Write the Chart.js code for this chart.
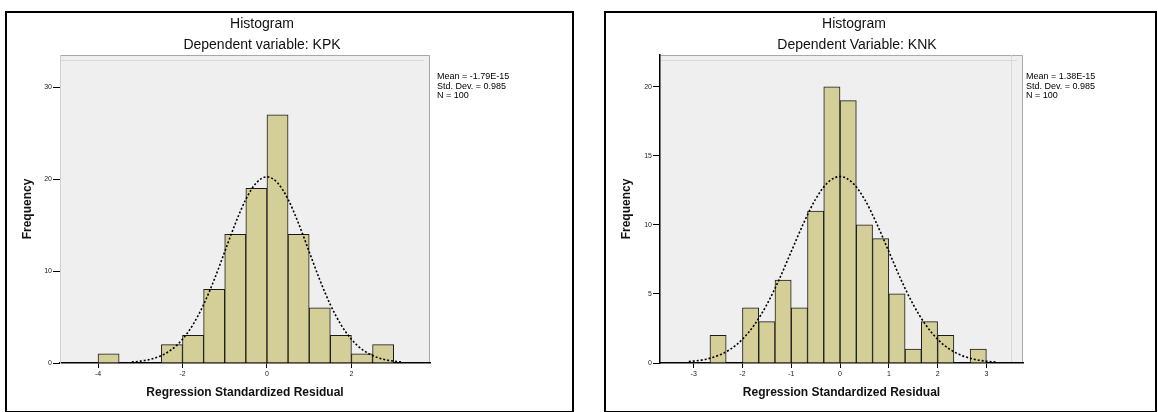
<!DOCTYPE html>
<html><head><meta charset="utf-8">
<script src="https://cdn.jsdelivr.net/npm/chart.js@4.4.0/dist/chart.umd.min.js"></script>
<style>
html,body{margin:0;padding:0;background:#fff;width:1158px;height:412px;overflow:hidden;font-family:"Liberation Sans",Arial,sans-serif;}
canvas{position:absolute;top:0;}
.box{position:absolute;border:2px solid #000;box-sizing:border-box;}
.t{position:absolute;transform:translateX(-50%);white-space:nowrap;color:#111;font-size:14px;line-height:16px;}
.stats{position:absolute;font-size:9px;line-height:9.5px;color:#000;white-space:nowrap;}
</style></head><body>
<canvas id="c1" width="580" height="412" style="left:0px"></canvas>
<canvas id="c2" width="578" height="412" style="left:580px"></canvas>
<div class="box" style="left:5px;top:11px;width:569px;height:402px"></div>
<div class="box" style="left:604px;top:11px;width:553px;height:402px"></div>
<div class="t" style="left:262px;top:15px">Histogram</div>
<div class="t" style="left:262px;top:36px">Dependent variable: KPK</div>
<div class="t" style="left:854px;top:15px">Histogram</div>
<div class="t" style="left:857px;top:36px">Dependent Variable: KNK</div>
<div class="stats" style="left:437px;top:72px">Mean = -1.79E-15<br>Std. Dev. = 0.985<br>N = 100</div>
<div class="stats" style="left:1026px;top:72px">Mean = 1.38E-15<br>Std. Dev. = 0.985<br>N = 100</div>
<script>
// ---- KPK histogram (left) ----
const kpkBinCenters = [-3.75,-3.25,-2.75,-2.25,-1.75,-1.25,-0.75,-0.25,0.25,0.75,1.25,1.75,2.25,2.75];
const kpkCounts     = [1,0,0,2,3,8,14,19,27,14,6,3,1,2];
const kpkCurveX = [-3.2,-3,-2.75,-2.5,-2.25,-2,-1.75,-1.5,-1.25,-1,-0.75,-0.5,-0.25,0,0.25,0.5,0.75,1,1.25,1.5,1.75,2,2.25,2.5,2.75,3,3.2];
const kpkCurveY = [0.10,0.20,0.41,0.81,1.49,2.58,4.18,6.35,9.05,12.1,15.15,17.8,19.6,20.25,19.6,17.8,15.15,12.1,9.05,6.35,4.18,2.58,1.49,0.81,0.41,0.20,0.10];

// ---- KNK histogram (right) ----
const knkBinCenters = [-2.5,-2.167,-1.833,-1.5,-1.167,-0.833,-0.5,-0.167,0.167,0.5,0.833,1.167,1.5,1.833,2.167,2.5,2.833];
const knkCounts     = [2,0,4,3,6,4,11,20,19,10,9,5,1,3,2,0,1];
const knkCurveX = [-3.1,-2.75,-2.5,-2.25,-2,-1.75,-1.5,-1.25,-1,-0.75,-0.5,-0.25,0,0.25,0.5,0.75,1,1.25,1.5,1.75,2,2.25,2.5,2.75,3,3.2];
const knkCurveY = [0.10,0.27,0.54,0.99,1.72,2.79,4.23,6.03,8.07,10.1,11.87,13.07,13.5,13.07,11.87,10.1,8.07,6.03,4.23,2.79,1.72,0.99,0.54,0.27,0.13,0.07];

const BAR = '#D4CF98';
const plotBg = {
  id:'plotBg',
  beforeDraw(chart, args, o){
    const {ctx, chartArea:a} = chart;
    const inner = chart.options.plugins.plotBg.inner;
    ctx.save();
    ctx.fillStyle = '#EFEFEF';
    ctx.fillRect(a.left, a.top, a.right-a.left, a.bottom-a.top);
    ctx.strokeStyle = '#A8A8A8'; ctx.lineWidth = 1;
    ctx.beginPath();
    ctx.moveTo(a.left, a.top+0.5); ctx.lineTo(a.right-0.5, a.top+0.5); ctx.lineTo(a.right-0.5, a.bottom);
    ctx.stroke();
    ctx.strokeStyle = '#D8D8D8';
    ctx.beginPath(); ctx.moveTo(a.left, a.top+5.5); ctx.lineTo(a.right-6, a.top+5.5);
    if (inner) { ctx.moveTo(a.right-11.5, a.top); ctx.lineTo(a.right-11.5, a.bottom); }
    ctx.stroke();
    ctx.restore();
  }
};

function makeChart(id, c){
  new Chart(document.getElementById(id), {
    type:'bar',
    data:{ datasets:[
      {type:'bar', data:c.bins.map((x,i)=>({x:x, y:c.counts[i]})), backgroundColor:BAR, borderColor:'#1a1a1a', borderWidth:1, barPercentage:1, categoryPercentage:1, order:2},
      {type:'line', data:c.cx.map((x,i)=>({x:x, y:c.cy[i]})), borderColor:'#000', borderWidth:1.6, borderDash:[2,2], pointRadius:0, fill:false, cubicInterpolationMode:'monotone', order:1}
    ]},
    options:{
      responsive:false, animation:false, devicePixelRatio:1,
      layout:{padding:{top:55,left:0,right:c.padRight,bottom:0}},
      plugins:{legend:{display:false}, tooltip:{enabled:false}, plotBg:{inner:c.inner}},
      scales:{
        x:{type:'linear', min:c.xmin, max:c.xmax, offset:false,
           ticks:{stepSize:c.xstep, includeBounds:false, font:{size:7, family:'Liberation Sans'}, color:'#222', padding:2, maxRotation:0, autoSkip:false},
           grid:{display:true, drawOnChartArea:false, drawTicks:true, tickLength:5, tickColor:'#000', offset:false},
           border:{color:'#000', width:1.5},
           title:{display:true, text:'Regression Standardized Residual', font:{size:12, weight:'bold', family:'Liberation Sans'}, color:'#111', padding:{top:0, bottom:11.8}},
           afterFit(s){ s.height = 49; }},
        y:{type:'linear', min:0, max:c.ymax,
           ticks:{stepSize:c.ystep, includeBounds:false, font:{size:7, family:'Liberation Sans'}, color:'#222', padding:1},
           grid:{display:true, drawOnChartArea:false, drawTicks:true, tickLength:7, tickColor:'#000'},
           border:{color:c.yBorder, width:c.yBorderW},
           title:{display:true, text:'Frequency', font:{size:12, weight:'bold', family:'Liberation Sans'}, color:'#111', padding:{top:c.yTitlePad, bottom:0}},
           afterFit(s){ s.width = c.yWidth; }}
      }
    },
    plugins:[plotBg]
  });
}

makeChart('c1', {bins:kpkBinCenters, counts:kpkCounts, cx:kpkCurveX, cy:kpkCurveY, inner:false,
  xmin:-4.9, xmax:3.86, xstep:2, ymax:33.5, ystep:10, padRight:150, yWidth:60, yTitlePad:20.8, yBorder:'#D0D0D0', yBorderW:1});
makeChart('c2', {bins:knkBinCenters, counts:knkCounts, cx:knkCurveX, cy:knkCurveY, inner:true,
  xmin:-3.69, xmax:3.75, xstep:1, ymax:22.3, ystep:5, padRight:135, yWidth:80, yTitlePad:39.8, yBorder:'#000', yBorderW:1.5});
</script>
</body></html>
